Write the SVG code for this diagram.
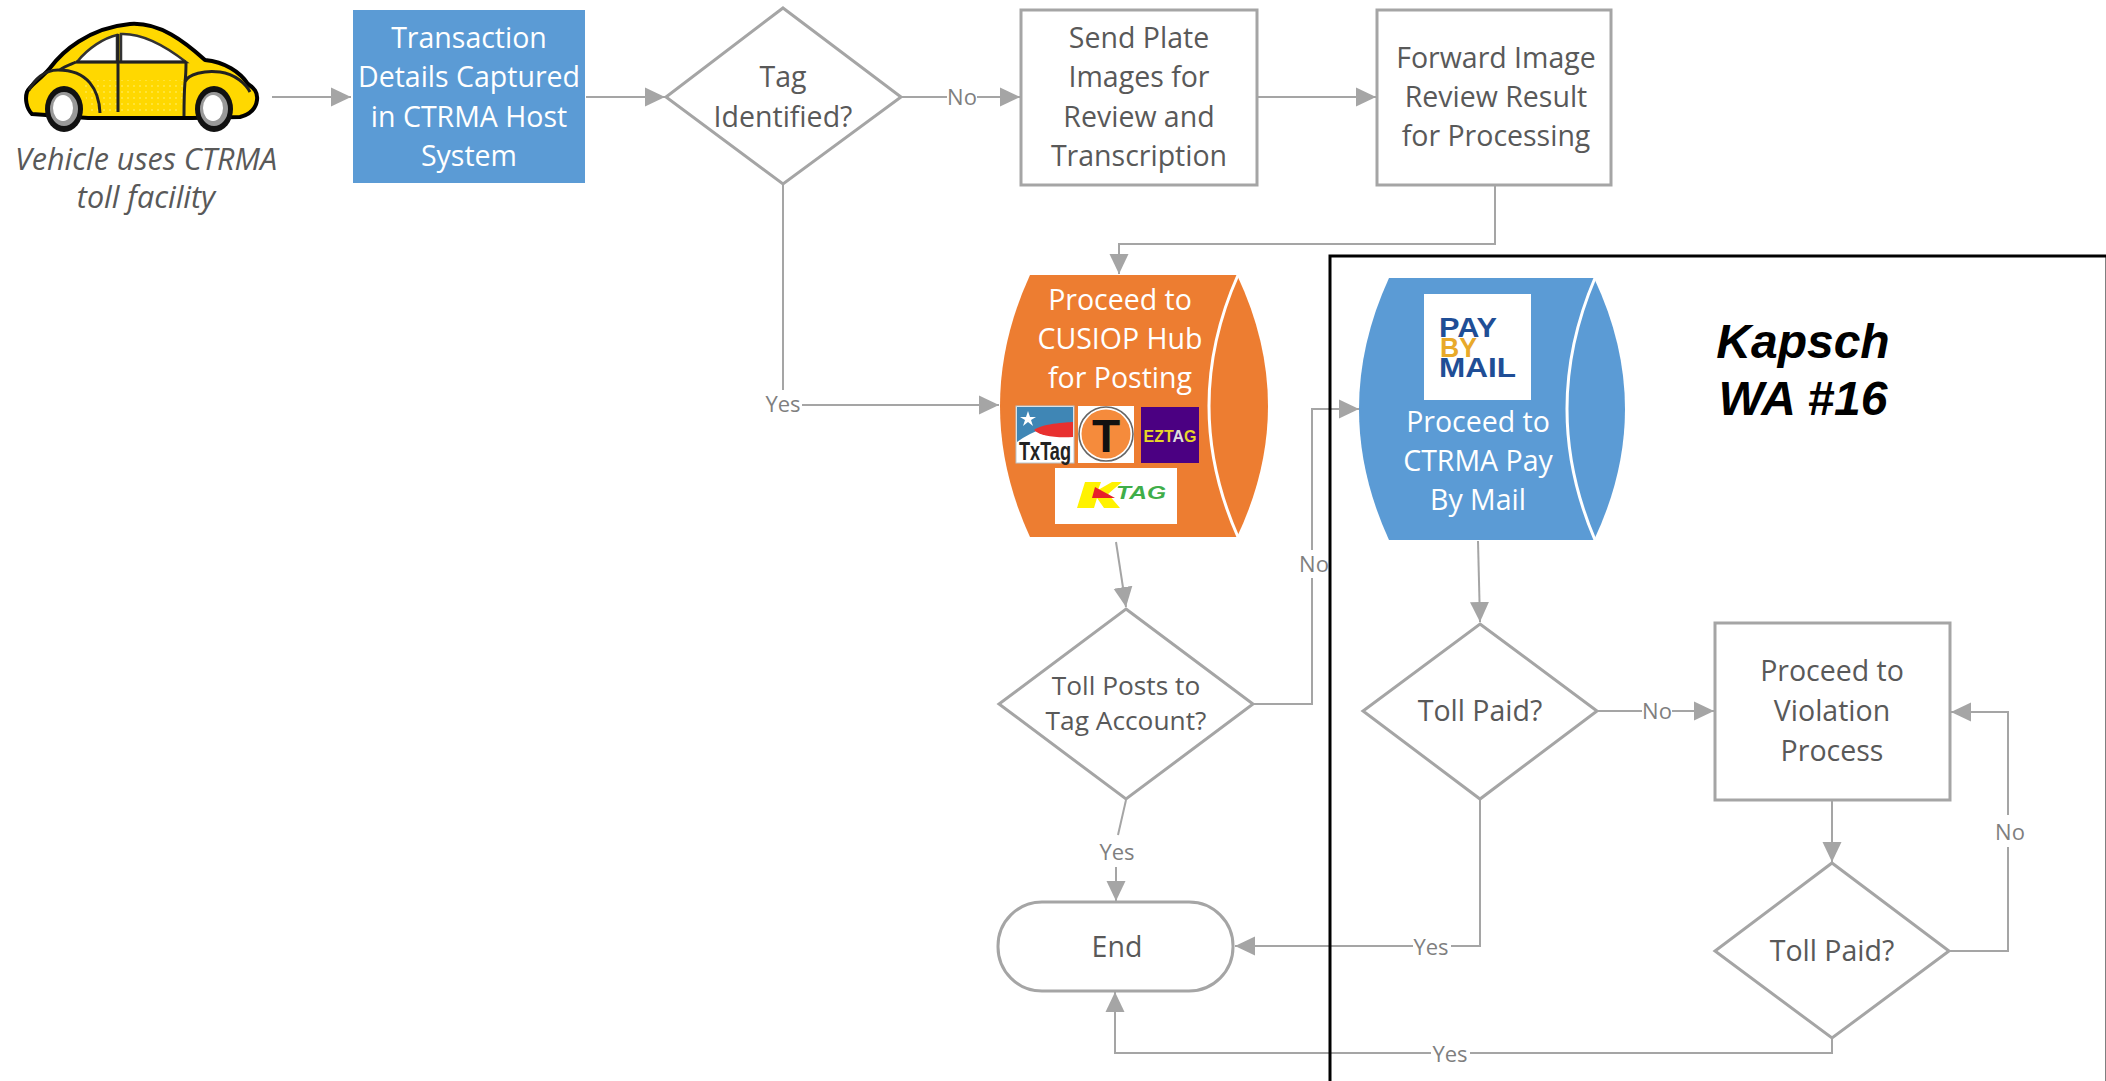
<svg xmlns="http://www.w3.org/2000/svg" width="2106" height="1081" viewBox="0 0 2106 1081">
<style>
text{font-family:"Open Sans","Noto Sans","DejaVu Sans",sans-serif;text-anchor:middle}
.t{font-size:28.5px;fill:#595959}
.i{font-size:30.5px;fill:#595959;font-style:italic}
.w{font-size:28.5px;fill:#fff}
.s{font-size:26.3px;fill:#595959}
.l{font-size:22px;fill:#7f7f7f}
.sh{fill:#fff;stroke:#a5a5a5;stroke-width:3}
.c{fill:none;stroke:#a5a5a5;stroke-width:2}
.inner{fill:none;stroke:#fff;stroke-width:3}
.k{font-family:"Liberation Sans",Arial,sans-serif;font-weight:700;font-style:italic;font-size:48px;fill:#000}
.b{font-family:"Liberation Sans",Arial,sans-serif;font-weight:700}
.ln{stroke:#222;fill:none;stroke-width:3}
</style>
<defs>
<marker id="a" markerUnits="userSpaceOnUse" markerWidth="20" markerHeight="20" refX="20" refY="10" orient="auto"><path d="M0,0.5L20,10L0,19.5Z" fill="#a5a5a5"/></marker>
<pattern id="dots" width="6" height="6" patternUnits="userSpaceOnUse"><rect width="6" height="6" fill="#ffd800"/><circle cx="2" cy="2" r="0.8" fill="#fff27a"/></pattern>
</defs>
<rect width="2106" height="1081" fill="#fff"/>

<g id="connectors">
<path class="c" marker-end="url(#a)" d="M272,97H351"/>
<path class="c" marker-end="url(#a)" d="M586,97H665"/>
<path class="c" d="M902,97H947"/>
<path class="c" marker-end="url(#a)" d="M977,97H1020"/>
<path class="c" marker-end="url(#a)" d="M1257,97H1376"/>
<path class="c" marker-end="url(#a)" d="M1495,185V244H1119V274"/>
<path class="c" d="M783,185V390"/>
<path class="c" marker-end="url(#a)" d="M802,405H999"/>
<path class="c" marker-end="url(#a)" d="M1116,542L1126,607"/>
<path class="c" d="M1254,704H1312V578"/>
<path class="c" marker-end="url(#a)" d="M1312,550V409H1359"/>
<path class="c" d="M1126,800L1118,835"/>
<path class="c" marker-end="url(#a)" d="M1116,867V901"/>
<path class="c" marker-end="url(#a)" d="M1478,541L1480,622"/>
<path class="c" d="M1598,711H1642"/>
<path class="c" marker-end="url(#a)" d="M1672,711H1714"/>
<path class="c" d="M1480,800V946H1451"/>
<path class="c" marker-end="url(#a)" d="M1413,946H1235"/>
<path class="c" marker-end="url(#a)" d="M1832,801V862"/>
<path class="c" d="M1950,951H2008V847"/>
<path class="c" marker-end="url(#a)" d="M2008,815V712H1951"/>
<path class="c" d="M1832,1039V1053H1470"/>
<path class="c" marker-end="url(#a)" d="M1431,1053H1115V992"/>
<text class="l" x="962" y="105">No</text>
<text class="l" x="783" y="412">Yes</text>
<text class="l" x="1314" y="572">No</text>
<text class="l" x="1117" y="860">Yes</text>
<text class="l" x="1657" y="719">No</text>
<text class="l" x="1431" y="955">Yes</text>
<text class="l" x="2010" y="840">No</text>
<text class="l" x="1450" y="1062">Yes</text>
</g>

<g id="vehicle">
<path d="M32,114C26,108 25,98 27,92C30,85 40,80 50,68C62,52 88,28 130,24C160,22 185,42 205,60C225,62 240,72 248,84C254,88 258,92 257,100C256,108 252,114 240,117L192,118H88Z" fill="#ffd800" stroke="#000" stroke-width="4" stroke-linejoin="round"/>
<path d="M89,112L82,80H186L180,112Z" fill="url(#dots)"/>
<path d="M77,62C88,48 104,38 117,35V62ZM121,34C145,33 168,48 186,62H121Z" fill="#fff" stroke="#333" stroke-width="2.5"/>
<path class="ln" d="M118,34V112M76,62H186M100,113C99,90 88,70 58,70C44,70 34,80 29,90M186,62C186,70 186,74 185,82C188,74 205,70 220,72C235,74 246,84 250,92M185,82C184,94 184,104 184,116M60,70C65,66 72,64 76,62"/>
<ellipse cx="64" cy="109" rx="19" ry="23" fill="#111"/>
<ellipse cx="64" cy="109" rx="14" ry="17" fill="#999"/>
<ellipse cx="63" cy="108" rx="10" ry="13" fill="#fff"/>
<ellipse cx="214" cy="109" rx="19" ry="23" fill="#111"/>
<ellipse cx="214" cy="109" rx="14" ry="17" fill="#999"/>
<ellipse cx="213" cy="108" rx="10" ry="13" fill="#fff"/>
<text class="i" x="146" y="170">Vehicle uses CTRMA</text>
<text class="i" x="146" y="208">toll facility</text>
</g>

<g id="transaction">
<rect x="353" y="10" width="232" height="173" fill="#5b9bd5"/>
<text class="w" x="469" y="48">Transaction</text>
<text class="w" x="469" y="87">Details Captured</text>
<text class="w" x="469" y="127">in CTRMA Host</text>
<text class="w" x="469" y="166">System</text>
</g>

<g id="tag-identified">
<path class="sh" d="M783,8L901,97L783,184L666,97Z"/>
<text class="t" x="783" y="87">Tag</text>
<text class="t" x="783" y="127">Identified?</text>
</g>

<g id="send-plate">
<rect class="sh" x="1021" y="10" width="236" height="175"/>
<text class="t" x="1139" y="48">Send Plate</text>
<text class="t" x="1139" y="87">Images for</text>
<text class="t" x="1139" y="127">Review and</text>
<text class="t" x="1139" y="166">Transcription</text>
</g>

<g id="forward">
<rect class="sh" x="1377" y="10" width="234" height="175"/>
<text class="t" x="1496" y="68">Forward Image</text>
<text class="t" x="1496" y="107">Review Result</text>
<text class="t" x="1496" y="146">for Processing</text>
</g>

<g id="cusiop">
<path d="M1030,275H1237Q1299,406 1237,537H1030Q970,406 1030,275Z" fill="#ed7d31"/>
<path class="inner" d="M1238,275Q1180,406 1238,537"/>
<text class="w" x="1120" y="310">Proceed to</text>
<text class="w" x="1120" y="349">CUSIOP Hub</text>
<text class="w" x="1120" y="388">for Posting</text>
<g id="txtag">
<rect x="1016" y="406" width="58" height="57" fill="#fff" stroke="#b8c4cc" stroke-width="1"/>
<path d="M1017,407H1073V423Q1040,425 1017,442Z" fill="#3f86b5"/>
<path d="M1034,430C1042,423 1073,422 1073,422V437C1055,438 1040,436 1034,430Z" fill="#e8302f"/>
<path d="M1028,411L1030,417H1036L1031,420L1033,426L1028,422L1023,426L1025,420L1020,417H1026Z" fill="#fff"/>
<text class="b" x="1045" y="460" font-size="25" fill="#222" textLength="52" lengthAdjust="spacingAndGlyphs">TxTag</text>
</g>
<g id="ttag">
<rect x="1078" y="406" width="56" height="57" fill="#fff"/>
<circle cx="1106" cy="434" r="27" fill="#fff" stroke="#666" stroke-width="1.6"/>
<circle cx="1106" cy="434" r="24.5" fill="#f58b3c"/>
<text class="b" x="1106" y="452" font-size="46" fill="#111">T</text>
</g>
<g id="eztag">
<rect x="1141" y="407" width="58" height="56" fill="#4b0082"/>
<text class="b" x="1170" y="442" font-size="16.5" fill="#e8d728" textLength="53" lengthAdjust="spacingAndGlyphs">EZT<tspan fill="#ddd">A</tspan>G</text>
</g>
<g id="ktag">
<rect x="1055" y="468" width="122" height="56" fill="#fff"/>
<path d="M1085,482H1101L1098,490L1112,482H1122L1108,494L1120,508H1104L1097,498L1094,508H1077Z" fill="#fff200"/>
<path d="M1095,487L1115,498H1092Z" fill="#e8202a"/>
<text class="b" x="1141" y="499" font-size="18" font-style="italic" fill="#3fae49" textLength="50" lengthAdjust="spacingAndGlyphs">TAG</text>
</g>
</g>

<g id="pay-by-mail">
<path d="M1389,278H1594Q1656,409 1594,540H1389Q1329,409 1389,278Z" fill="#5b9bd5"/>
<path class="inner" d="M1595,278Q1539,409 1595,540"/>
<rect x="1424" y="294" width="107" height="106" fill="#fff"/>
<text class="b" x="1468" y="337" font-size="27" fill="#1f4e96" textLength="58" lengthAdjust="spacingAndGlyphs">PAY</text>
<text class="b" x="1458.5" y="357" font-size="27" fill="#e8a92a" textLength="37" lengthAdjust="spacingAndGlyphs">BY</text>
<text class="b" x="1477.5" y="377" font-size="27" fill="#1f4e96" textLength="77" lengthAdjust="spacingAndGlyphs">MAIL</text>
<text class="w" x="1478" y="432">Proceed to</text>
<text class="w" x="1478" y="471">CTRMA Pay</text>
<text class="w" x="1478" y="510">By Mail</text>
</g>

<g id="toll-posts">
<path class="sh" d="M1126,609L1253,704L1126,799L999,704Z"/>
<text class="s" x="1126" y="695">Toll Posts to</text>
<text class="s" x="1126" y="730">Tag Account?</text>
</g>

<g id="toll-paid-1">
<path class="sh" d="M1480,624L1597,711L1480,799L1363,711Z"/>
<text class="t" x="1480" y="721">Toll Paid?</text>
</g>

<g id="violation">
<rect class="sh" x="1715" y="623" width="235" height="177"/>
<text class="t" x="1832" y="681">Proceed to</text>
<text class="t" x="1832" y="721">Violation</text>
<text class="t" x="1832" y="761">Process</text>
</g>

<g id="toll-paid-2">
<path class="sh" d="M1832,863L1949,951L1832,1038L1715,951Z"/>
<text class="t" x="1832" y="961">Toll Paid?</text>
</g>

<g id="end">
<rect class="sh" x="998" y="902" width="235" height="89" rx="44" ry="44"/>
<text class="t" x="1117" y="957">End</text>
</g>

<g id="kapsch">
<path d="M2105.5,257V1081" fill="none" stroke="#808080" stroke-width="1"/>
<path d="M1330,1081V256H2106" fill="none" stroke="#000" stroke-width="3"/>
<text class="k" x="1803" y="358">Kapsch</text>
<text class="k" x="1803" y="415">WA #16</text>
</g>
</svg>
